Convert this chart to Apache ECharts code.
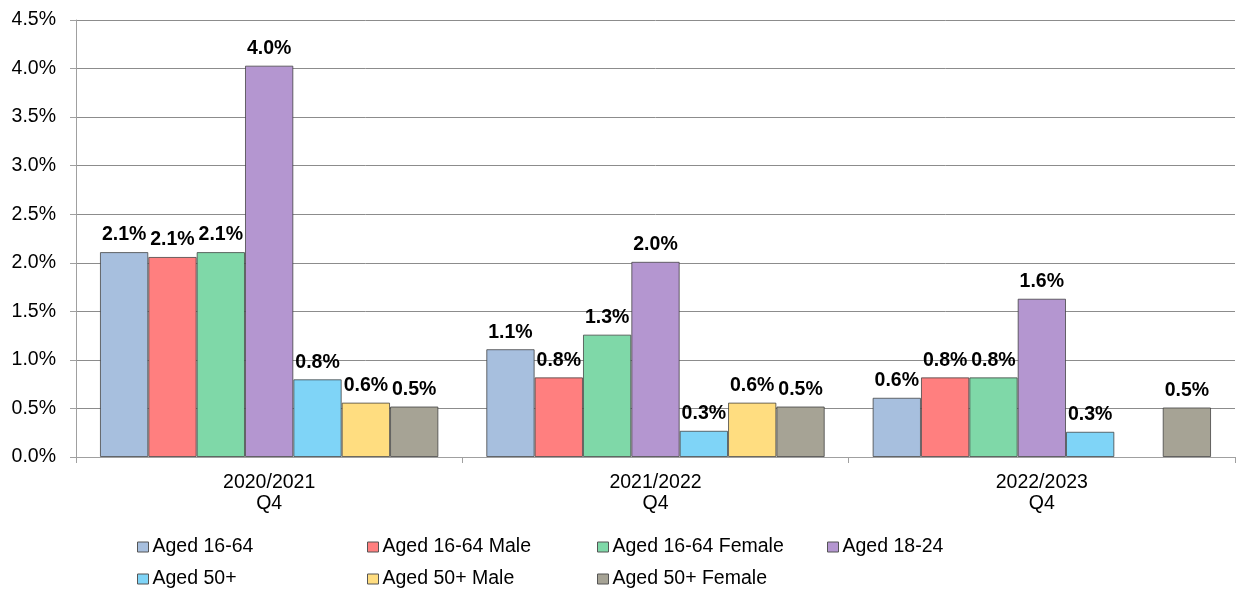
<!DOCTYPE html>
<html>
<head>
<meta charset="utf-8">
<script src="https://cdn.jsdelivr.net/npm/echarts@6/dist/echarts.min.js"></script>
<style>
  html, body { margin: 0; padding: 0; background: #fff; }
  #chart { width: 1236px; height: 593px; }
</style>
</head>
<body>
<div id="chart"></div>
<script>
// categories and series values (percent)
const categories = ["2020/2021\nQ4", "2021/2022\nQ4", "2022/2023\nQ4"];
const seriesNames = [
  "Aged 16-64", "Aged 16-64 Male", "Aged 16-64 Female", "Aged 18-24",
  "Aged 50+", "Aged 50+ Male", "Aged 50+ Female"
];
const aged1664 = [2.11, 1.11, 0.61];
const aged1664Male = [2.06, 0.82, 0.82];
const aged1664Female = [2.11, 1.26, 0.82];
const aged1824 = [4.03, 2.01, 1.63];
const aged50 = [0.80, 0.27, 0.26];
const aged50Male = [0.56, 0.56, null];
const aged50Female = [0.52, 0.52, 0.51];
const yTicks = [0, 0.5, 1, 1.5, 2, 2.5, 3, 3.5, 4, 4.5];

const colors = ["#a7bfde", "#ff7f7f", "#7fd8a8", "#b496d0", "#7fd4f7", "#ffdd80", "#a6a395"];
const values = [aged1664, aged1664Male, aged1664Female, aged1824, aged50, aged50Male, aged50Female];

const font = "'Liberation Sans', Arial, sans-serif";
const fs = 19.5;
const chart = echarts.init(document.getElementById("chart"));

const series = seriesNames.map((name, i) => ({
  name: name,
  type: "bar",
  data: values[i],
  barGap: "0%",
  barCategoryGap: "12.4%",
  itemStyle: {
    color: colors[i],
    borderColor: "rgba(60,60,60,0.75)",
    borderWidth: 1
  },
  label: {
    show: true,
    position: "top",
    distance: 7,
    color: "#000",
    fontFamily: font,
    fontWeight: "bold",
    fontSize: fs,
    formatter: p => p.value == null ? "" : p.value.toFixed(1) + "%"
  }
}));

// one legend per item so the columns line up like the original
const legends = seriesNames.map((name, i) => ({
  data: [name],
  left: 137 + (i % 4) * 230,
  top: i < 4 ? 537 : 569,
  itemWidth: 11,
  itemHeight: 10,
  itemGap: 0,
  padding: 0,
  icon: "rect",
  itemStyle: { borderColor: "#555", borderWidth: 1 },
  selectedMode: false,
  textStyle: { fontFamily: font, fontSize: fs, color: "#000", padding: [0, 0, 0, -1] }
}));

const option = {
  animation: false,
  grid: { left: 76, right: 1, top: 20, bottom: 136, containLabel: false },
  legend: legends,
  xAxis: {
    type: "category",
    data: categories,
    axisLine: { show: true, lineStyle: { color: "#a0a0a0", width: 1 } },
    axisTick: { show: true, length: 6, lineStyle: { color: "#a0a0a0" } },
    axisLabel: {
      fontFamily: font,
      fontSize: fs,
      color: "#000",
      lineHeight: 21,
      margin: 15
    }
  },
  yAxis: {
    type: "value",
    min: 0,
    max: yTicks[yTicks.length - 1],
    interval: 0.5,
    axisLine: { show: true, lineStyle: { color: "#a0a0a0", width: 1 } },
    axisTick: { show: true, length: 6, lineStyle: { color: "#a0a0a0" } },
    splitLine: { show: true, lineStyle: { color: "#8c8c8c", width: 1 } },
    axisLabel: {
      fontFamily: font,
      fontSize: fs,
      color: "#000",
      margin: 20,
      formatter: v => v.toFixed(1) + "%"
    }
  },
  series: series
};
chart.setOption(option);
</script>
</body>
</html>
